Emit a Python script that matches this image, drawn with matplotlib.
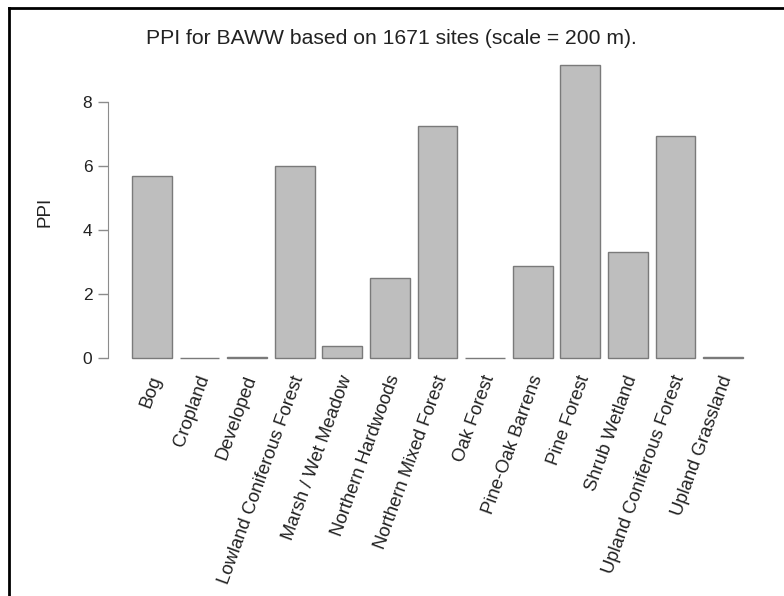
import matplotlib
matplotlib.use("Agg")
import matplotlib.pyplot as plt
from matplotlib.lines import Line2D

categories = ["Bog", "Cropland", "Developed", "Lowland Coniferous Forest",
              "Marsh / Wet Meadow", "Northern Hardwoods", "Northern Mixed Forest",
              "Oak Forest", "Pine-Oak Barrens", "Pine Forest", "Shrub Wetland",
              "Upland Coniferous Forest", "Upland Grassland"]
ppi = [5.69, 0.01, 0.04, 6.00, 0.38, 2.49, 7.24, 0.01, 2.88, 9.14, 3.30, 6.94, 0.04]
yticks = [0, 2, 4, 6, 8]
title = "PPI for BAWW based on 1671 sites (scale = 200 m)."

plt.rcParams['font.family'] = ['Liberation Sans', 'DejaVu Sans']

W, H = 784, 596
fig = plt.figure(figsize=(W / 100, H / 100), dpi=100)
L, R, T, B = 107.6, 767.4, 53.2, 370.0
ax = fig.add_axes([L / W, 1 - B / H, (R - L) / W, (B - T) / H])

n = len(categories)
centers = [0.7 + 1.2 * i for i in range(n)]
ax.bar(centers, ppi, width=1.0, color="#bebebe", edgecolor="#7a7a7a", linewidth=1.0)

span = centers[-1] + 0.5 - 0.2
ax.set_xlim(0.2 - 0.04 * span, centers[-1] + 0.5 + 0.04 * span)
ymax = max(ppi)
ax.set_ylim(-0.04 * ymax, ymax * 1.04)

for s in ["top", "right", "bottom"]:
    ax.spines[s].set_visible(False)
ax.spines["left"].set_bounds(0, 8)
ax.spines["left"].set_color("#8c8c8c")
ax.set_yticks(yticks)
ax.set_yticklabels([str(v) for v in yticks])
ax.tick_params(axis="y", colors="#8c8c8c", labelcolor="#222222", labelsize=12.5,
               length=7, width=1.0, pad=4)
ax.set_xticks([])

for c, lab in zip(centers, categories):
    ax.text(c + 0.12, -0.55, lab, rotation=70, rotation_mode="anchor",
            ha="right", va="center", fontsize=13.3, color="#222222",
            transform=ax.transData, clip_on=False)

ax.set_ylabel("PPI", fontsize=13.5, color="#222222", labelpad=21)
fig.text(391 / W, 1 - 38 / H, title, ha="center", va="center",
         fontsize=15.2, color="#222222")

fig.add_artist(Line2D([9 / W, 1.0], [1 - 8 / H, 1 - 8 / H], color="black",
                      linewidth=2.0, transform=fig.transFigure))
fig.add_artist(Line2D([9 / W, 9 / W], [0.0, 1 - 8 / H], color="black",
                      linewidth=2.0, transform=fig.transFigure))

fig.savefig("out.png", dpi=100)
